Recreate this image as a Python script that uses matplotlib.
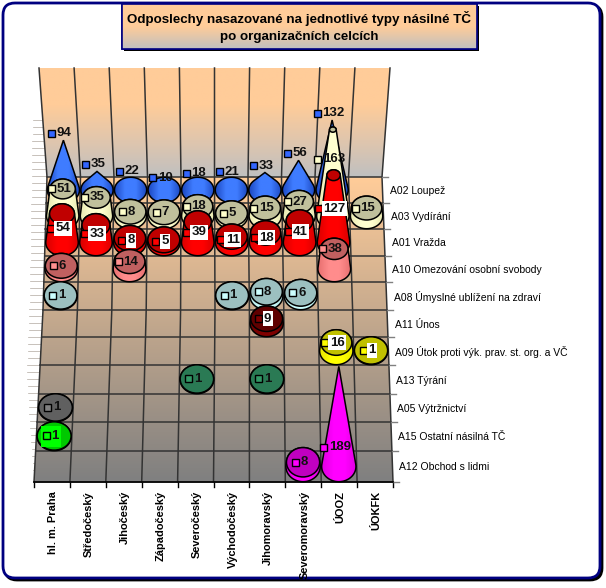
import numpy as np
import matplotlib
matplotlib.use("Agg")
import matplotlib.pyplot as plt
from matplotlib.patches import Ellipse, FancyBboxPatch, Polygon, Rectangle

plt.rcParams["font.family"] = ["Liberation Sans", "DejaVu Sans"]

title = "Odposlechy nasazované na jednotlivé typy násilné TČ\npo organizačních celcích"
units = ["hl. m. Praha", "Středočeský", "Jihočeský", "Západočeský", "Severočeský",
         "Východočeský", "Jihomoravský", "Severomoravský", "ÚOOZ", "ÚOKFK"]
rows = ["A02 Loupež", "A03 Vydírání", "A01 Vražda", "A10 Omezování osobní svobody",
        "A08 Úmyslné ublížení na zdraví", "A11 Únos", "A09 Útok proti výk. prav. st. org. a VČ",
        "A13 Týrání", "A05 Výtržnictví", "A15 Ostatní násilná TČ", "A12 Obchod s lidmi"]

a02 = [94, 35, 22, 10, 18, 21, 33, 56, 132, None]
a03 = [51, 35, 8, 7, 18, 5, 15, 27, 163, 15]
a01 = [54, 33, 8, 5, 39, 11, 18, 41, 127, None]
a10 = [6, None, 14, None, None, None, None, None, 38, None]
a08 = [1, None, None, None, None, 1, 8, 6, None, None]
a11 = [None, None, None, None, None, None, 9, None, None, None]
a09 = [None, None, None, None, None, None, None, None, 16, 1]
a13 = [None, None, None, None, 1, None, 1, None, None, None]
a05 = [1, None, None, None, None, None, None, None, None, None]
a15 = [1, None, None, None, None, None, None, None, None, None]
a12 = [None, None, None, None, None, None, None, 8, 189, None]
values = [a02, a03, a01, a10, a08, a11, a09, a13, a05, a15, a12]

# body edge, body centre, top, marker
colors = [("#1c48c0", "#3f7cff", None, "#3366ff"),
          ("#e8e8b0", "#ffffd0", "#c0c09c", "#ffffcc"),
          ("#d80000", "#ff0000", "#c00000", "#ff0000"),
          ("#e87070", "#ff8c8c", "#c06060", "#ff9090"),
          ("#b8e8e8", "#ccffff", "#9cc0c0", "#ccffff"),
          ("#700000", "#800000", "#600000", "#800000"),
          ("#e8e800", "#ffff00", "#c0c000", "#ffff00"),
          ("#206040", "#339966", "#2a7a54", "#339966"),
          ("#707070", "#808080", "#606060", "#808080"),
          ("#00cc00", "#00ff00", "#00c800", "#00ff00"),
          ("#e000e0", "#ff00ff", "#c000c0", "#ff00ff")]
white_back = [2, 5, 6]
vmax = 189

fig = plt.figure(figsize=(6.06, 5.88), dpi=100)
ax = fig.add_axes([0, 0, 1, 1])
ax.axis("off")

row_y = [177, 203, 229, 256, 282, 310, 337, 365, 394, 422, 451, 482]


def col_x(c, y):
    return np.interp(y, [68, 177, 310, 482],
                     [39 + 35.1 * c, 47 + 33.5 * c, 43 + 34.4 * c, 34 + 35.9 * c])


def hull(pts):
    pts = sorted(map(tuple, pts))
    out = []
    for seq in (pts, pts[::-1]):
        part = []
        for p in seq:
            while len(part) > 1 and ((part[-1][0] - part[-2][0]) * (p[1] - part[-2][1])
                                     - (part[-1][1] - part[-2][1]) * (p[0] - part[-2][0])) <= 0:
                part.pop()
            part.append(p)
        out += part[:-1]
    return np.array(out)


def gradient(patch, stops, extent, vertical=False):
    n = len(stops)
    rgb = np.array([matplotlib.colors.to_rgb(s) for s in stops])
    t = np.linspace(0, n - 1, 64)
    img = np.stack([np.interp(t, range(n), rgb[:, k]) for k in range(3)], axis=-1)
    img = img[:, None, :] if vertical else img[None, :, :]
    im = ax.imshow(img, extent=extent, aspect="auto", zorder=patch.get_zorder(), interpolation="bilinear")
    im.set_clip_path(patch)


# frame
ax.add_patch(FancyBboxPatch((5, 5), 597, 575, boxstyle="round,pad=0,rounding_size=12", fc="black", ec="black", lw=2, zorder=1))
ax.add_patch(FancyBboxPatch((3, 3), 597, 575, boxstyle="round,pad=0,rounding_size=12", fc="white", ec="#000080", lw=2, zorder=1))

# title box
ax.add_patch(Rectangle((124, 6), 355, 45, fc="black", ec="none", zorder=2))
box = Rectangle((122, 4), 355, 45, fc="none", ec="#000080", lw=1.2, zorder=3)
ax.add_patch(box)
gradient(box, ["#ffcc99", "#ffcc99", "#c0c0c0"], (122, 477, 49, 4), vertical=True)
ax.add_patch(Rectangle((122, 4), 355, 45, fc="none", ec="#000080", lw=1.2, zorder=3))
ax.text(299, 27, title, ha="center", va="center", fontsize=9.6, fontweight="bold", linespacing=1.45, color="black", zorder=4)

# left side wall, back wall and floor
ys = np.array([68, 177, 310, 482])
side = Polygon([(39, 68), (33, 110), (30, 290), (27, 377), (34, 482)] + [(col_x(0, y), y) for y in ys[::-1]],
               closed=True, fc="none", ec="none", zorder=5)
ax.add_patch(side)
gradient(side, ["#f4c8a0", "#e6c8b0", "#d8c8bc", "#c8c4c0"], (68, 482, 482, 68), vertical=True)
for y in range(120, 480, 7):
    ax.plot([np.interp(y, [110, 290, 377, 482], [33, 30, 27, 34]), col_x(0, y)], [y, y], color="#b0a8a0", lw=0.5, zorder=5)

wall = Polygon([(col_x(0, y), y) for y in [68, 177]] + [(col_x(10, y), y) for y in [177, 68]],
               closed=True, fc="none", ec="none", zorder=5)
ax.add_patch(wall)
gradient(wall, ["#ffcc99", "#ffcc99", "#e0c6ad", "#c0c0c0"], (30, 395, 177, 68), vertical=True)
floor = Polygon([(col_x(0, y), y) for y in ys[1:]] + [(col_x(10, y), y) for y in ys[:0:-1]],
                closed=True, fc="none", ec="none", zorder=5)
ax.add_patch(floor)
gradient(floor, ["#ffcc99", "#808080"], (30, 395, 482, 177), vertical=True)

for c in range(11):
    ax.plot([col_x(c, y) for y in ys], ys, color="#333333", lw=1.1, zorder=6)
    ax.plot([col_x(c, 482)] * 2, [482, 487], color="black", lw=1, zorder=6)
for y in row_y:
    ax.plot([col_x(0, y), col_x(10, y)], [y, y], color="#333333", lw=1.1, zorder=6)
    ax.plot([col_x(10, y), col_x(10, y) + 6], [y, y], color="#808080", lw=1, zorder=6)
ax.plot([col_x(0, 482), col_x(10, 482)], [482, 482], color="black", lw=1.1, zorder=6)

for r, name in enumerate(rows):
    y = (row_y[r] + row_y[r + 1]) / 2 + 1
    ax.text(col_x(10, y) + 7, y, name, ha="left", va="center", fontsize=7.5, color="black", zorder=8)
for c, name in enumerate(units):
    ax.text(col_x(c + 0.5, 482) + 1, 491, name, rotation=90, ha="center", va="top", fontsize=7.9, fontweight="bold", zorder=8)

# cones, back rows first
t = np.linspace(0, 2 * np.pi, 61)
z = 10
for r, series in enumerate(values):
    base_y = (row_y[r] + row_y[r + 1]) / 2
    edge, mid, top, mark = colors[r]
    for c, v in enumerate(series):
        if v is None:
            continue
        cx = col_x(c + 0.5, base_y)
        rx = 0.48 * (col_x(c + 1, base_y) - col_x(c, base_y))
        ry = 0.49 * (row_y[r + 1] - row_y[r])
        h = 0.53 * v
        k = 0 if top is None else (1 - v / vmax) ** 0.8
        pts = np.r_[np.c_[cx + rx * np.cos(t), base_y + ry * np.sin(t)],
                    np.c_[cx + k * rx * np.cos(t), base_y - h + k * ry * np.sin(t)]]
        z += 1
        body = Polygon(hull(pts), closed=True, fc="none", ec="none", zorder=z)
        ax.add_patch(body)
        gradient(body, [edge, mid, mid, edge], (cx - rx, cx + rx, base_y + ry, base_y - h - ry))
        ax.add_patch(Polygon(hull(pts), closed=True, fc="none", ec="black", lw=1.1, zorder=z))
        if k > 0:
            ax.add_patch(Ellipse((cx, base_y - h), 2 * k * rx, 2 * k * ry, fc=top, ec="black", lw=1.1, zorder=z))

# labels go over all the marks
for r, series in enumerate(values):
    base_y = (row_y[r] + row_y[r + 1]) / 2
    mark = colors[r][3]
    for c, v in enumerate(series):
        if v is None:
            continue
        h = 0.53 * v
        if r == 0:
            h += 7
        if r == 2:
            h /= 2
        # Excel pulled these two in from the top of the tall cones
        if r == 1:
            h = min(h, 57)
        if r == 10:
            h = min(h, 19)
        cx = col_x(c + 0.5, base_y)
        ly = base_y - h
        w = 7 * len(str(v))
        if r == 9:
            ax.add_patch(Rectangle((cx - 13, ly - 10), 20, 21, fc="#00ff00", ec="none", zorder=200))
        ax.add_patch(Rectangle((cx - w / 2 - 8, ly - 3.5), 7, 7, fc=mark, ec="black", lw=1, zorder=201))
        back = dict(fc="white", ec="none", pad=1) if r in white_back else None
        ax.text(cx + 1, ly, str(v), ha="center", va="center", fontsize=9.5, fontweight="bold",
                color="#111111", bbox=back, zorder=202)

ax.set_xlim(0, 606)
ax.set_ylim(588, 0)
fig.savefig("out.png", dpi=100)
